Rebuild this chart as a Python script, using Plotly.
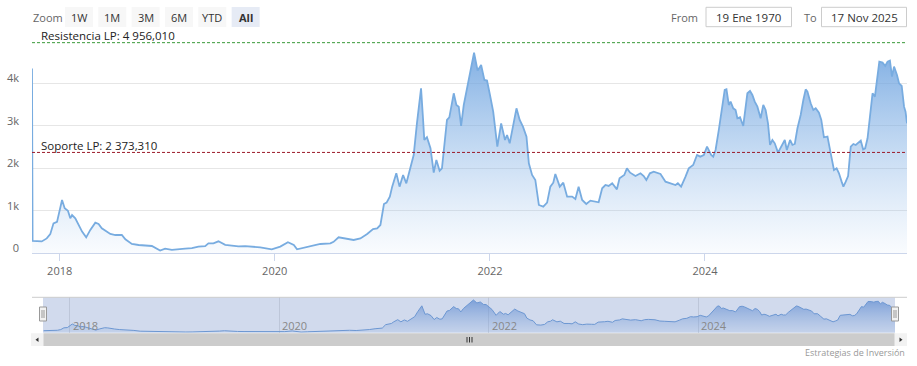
import plotly.graph_objects as go

W, H = 917, 366

dates = [
    "2017-09-29", "2017-10-01", "2017-11-01", "2017-11-18", "2017-11-30", "2017-12-11", "2017-12-23", "2017-12-29",
    "2018-01-09", "2018-01-18", "2018-01-29", "2018-02-06", "2018-02-12", "2018-02-23", "2018-03-06", "2018-03-18",
    "2018-04-01", "2018-04-15", "2018-05-02", "2018-05-13", "2018-05-24", "2018-06-05", "2018-06-22", "2018-07-09",
    "2018-07-31", "2018-08-12", "2018-09-03", "2018-09-26", "2018-10-18", "2018-11-10", "2018-12-08", "2018-12-25",
    "2019-01-17", "2019-02-09", "2019-03-03", "2019-03-26", "2019-04-17", "2019-05-10", "2019-05-21", "2019-06-07",
    "2019-06-24", "2019-07-17", "2019-08-08", "2019-08-31", "2019-09-23", "2019-10-27", "2019-11-13", "2019-12-22",
    "2020-01-20", "2020-02-15", "2020-03-06", "2020-03-17", "2020-04-09", "2020-05-01", "2020-06-04", "2020-07-08",
    "2020-07-19", "2020-08-05", "2020-09-02", "2020-09-25", "2020-10-18", "2020-11-10", "2020-11-30", "2020-12-14",
    "2020-12-25", "2021-01-06", "2021-01-15", "2021-01-26", "2021-02-03", "2021-02-17", "2021-02-28", "2021-03-12",
    "2021-03-23", "2021-04-04", "2021-04-17", "2021-04-28", "2021-05-12", "2021-05-19", "2021-05-23", "2021-06-01",
    "2021-06-13", "2021-06-24", "2021-07-03", "2021-07-14", "2021-07-22", "2021-08-08", "2021-08-16", "2021-08-31",
    "2021-09-09", "2021-09-17", "2021-09-25", "2021-10-04", "2021-10-21", "2021-11-08", "2021-11-20", "2021-12-02",
    "2021-12-13", "2021-12-22", "2022-01-01", "2022-01-12", "2022-01-26", "2022-02-08", "2022-02-21", "2022-02-28",
    "2022-03-09", "2022-03-19", "2022-04-01", "2022-04-12", "2022-04-23", "2022-05-05", "2022-05-13", "2022-05-24",
    "2022-06-04", "2022-06-16", "2022-07-01", "2022-07-14", "2022-07-25", "2022-08-04", "2022-08-11", "2022-08-26",
    "2022-09-07", "2022-09-20", "2022-10-07", "2022-10-18", "2022-10-29", "2022-11-10", "2022-11-24", "2022-12-08",
    "2022-12-25", "2023-01-05", "2023-01-17", "2023-01-28", "2023-02-08", "2023-02-20", "2023-03-08", "2023-03-17",
    "2023-04-02", "2023-04-11", "2023-04-22", "2023-05-10", "2023-05-27", "2023-06-07", "2023-06-16", "2023-06-28",
    "2023-07-11", "2023-08-03", "2023-08-20", "2023-09-06", "2023-09-23", "2023-10-01", "2023-10-12", "2023-10-27",
    "2023-11-07", "2023-11-22", "2023-12-05", "2023-12-16", "2023-12-28", "2024-01-08", "2024-01-22", "2024-01-29",
    "2024-02-06", "2024-02-17", "2024-02-28", "2024-03-08", "2024-03-14", "2024-03-22", "2024-03-28", "2024-04-06",
    "2024-04-14", "2024-04-20", "2024-04-29", "2024-05-10", "2024-05-24", "2024-06-02", "2024-06-10", "2024-06-18",
    "2024-06-27", "2024-07-08", "2024-07-17", "2024-07-25", "2024-08-02", "2024-08-09", "2024-08-17", "2024-08-25",
    "2024-09-05", "2024-09-16", "2024-09-28", "2024-10-05", "2024-10-16", "2024-10-24", "2024-11-01", "2024-11-10",
    "2024-11-21", "2024-11-30", "2024-12-08", "2024-12-14", "2024-12-25", "2025-01-03", "2025-01-11", "2025-01-22",
    "2025-01-30", "2025-02-08", "2025-02-20", "2025-03-03", "2025-03-14", "2025-03-23", "2025-03-31", "2025-04-09",
    "2025-04-15", "2025-04-23", "2025-05-01", "2025-05-10", "2025-05-19", "2025-05-27", "2025-06-04", "2025-06-13",
    "2025-06-21", "2025-06-28", "2025-07-06", "2025-07-15", "2025-07-23", "2025-07-31", "2025-08-09", "2025-08-15",
    "2025-08-26", "2025-09-04", "2025-09-12", "2025-09-20", "2025-09-27", "2025-10-04", "2025-10-14", "2025-10-21",
    "2025-10-30", "2025-11-07", "2025-11-12", "2025-11-17",
]
values = [
    4350, 290, 280, 350, 450, 705, 740, 900,
    1254, 1058, 1000, 823, 900, 823, 666, 510,
    376, 550, 720, 690, 588, 535, 454, 430,
    430, 329, 219, 195, 180, 172, 63, 110,
    80, 100, 110, 120, 157, 170, 235, 235,
    282, 200, 180, 165, 170, 150, 140, 94,
    157, 259, 196, 94, 133, 172, 219, 235,
    270, 376, 350, 313, 350, 454, 572, 588,
    666, 1160, 1192, 1333, 1568, 1882, 1568, 1843,
    1647, 1960, 2313, 3058, 3882, 3137, 2666, 2729,
    2470, 1897, 2196, 1944, 1999, 3137, 3200, 3764,
    3490, 3450, 2996, 3490, 4078, 4721, 4298, 4431,
    4078, 4063, 3725, 3333, 2509, 3058, 2666, 2784,
    2588, 2980, 3411, 3137, 2980, 2745, 2117, 1843,
    1725, 1137, 1098, 1192, 1568, 1662, 1866, 1568,
    1662, 1333, 1333, 1278, 1568, 1254, 1160, 1239,
    1215, 1200, 1529, 1607, 1584, 1647, 1505, 1764,
    1843, 1999, 1897, 1819, 1882, 1819, 1725, 1882,
    1921, 1866, 1686, 1647, 1607, 1647, 1568, 1803,
    1999, 2078, 2313, 2274, 2313, 2509, 2313, 2274,
    2431, 2902, 3450, 3843, 3858, 3490, 3568, 3411,
    3372, 3176, 3200, 2996, 3764, 3819, 3725, 3568,
    3450, 3176, 3490, 3372, 3058, 2549, 2666, 2588,
    2368, 2509, 2666, 2431, 2666, 2549, 2572, 2941,
    3254, 3607, 3858, 3803, 3529, 3372, 3411, 3309,
    3137, 2729, 2745, 2352, 1960, 1999, 1882, 1686,
    1568, 1686, 1819, 2509, 2572, 2549, 2588, 2651,
    2446, 2470, 2705, 3293, 3764, 3686, 4274, 4509,
    4486, 4407, 4509, 4533, 4156, 4392, 4196, 3999,
    3937, 3450, 3333, 3058,
]

resistance = 4956.010
support = 2373.310
resistance_label = "Resistencia LP: 4 956,010"
support_label = "Soporte LP: 2 373,310"

y_tickvals = [0, 1000, 2000, 3000, 4000]
y_ticktext = ["0", "1k", "2k", "3k", "4k"]
x_tickvals = ["2018-01-01", "2020-01-01", "2022-01-01", "2024-01-01"]
x_ticktext = ["2018", "2020", "2022", "2024"]

zoom_buttons = ["1W", "1M", "3M", "6M", "YTD", "All"]
from_text = "19 Ene 1970"
to_text = "17 Nov 2025"
credits = "Estrategias de Inversión"

FONT = "Open Sans"
LINE = "#78ace0"


def px(x):
    return x / W


def py(y):
    return 1 - y / H


fig = go.Figure()

fig.add_trace(go.Scatter(
    x=dates, y=values, mode="lines",
    line=dict(color=LINE, width=1.8),
    fill="tozeroy",
    fillgradient=dict(type="vertical",
                      colorscale=[[0, "rgba(150,190,235,0.05)"], [1, "rgba(105,160,222,0.85)"]],
                      start=0, stop=4800),
    hoverinfo="skip", showlegend=False,
))

fig.add_trace(go.Scatter(
    x=dates[1:], y=values[1:], mode="lines",
    line=dict(color="#6f9fd8", width=1),
    fill="tozeroy",
    fillgradient=dict(type="vertical",
                      colorscale=[[0, "rgba(140,180,230,0.15)"], [1, "rgba(95,145,215,0.75)"]],
                      start=0, stop=4800),
    xaxis="x2", yaxis="y2",
    hoverinfo="skip", showlegend=False,
))

xr = [dates[0], dates[-1]]

shapes = []
annotations = []

# support / resistance lines
shapes.append(dict(type="line", xref="paper", yref="y", x0=px(32), x1=px(907),
                   y0=resistance, y1=resistance, line=dict(color="#3a9a3a", width=1, dash="3px,2px")))
shapes.append(dict(type="line", xref="paper", yref="y", x0=px(32), x1=px(907),
                   y0=support, y1=support, line=dict(color="#9b1b2a", width=1, dash="3px,2px")))
annotations.append(dict(text=resistance_label, xref="paper", yref="y", x=px(39), y=resistance,
                        xanchor="left", yanchor="middle", yshift=7, showarrow=False,
                        font=dict(family=FONT, size=11.5, color="#222222")))
annotations.append(dict(text=support_label, xref="paper", yref="y", x=px(39), y=support,
                        xanchor="left", yanchor="middle", yshift=7, showarrow=False,
                        font=dict(family=FONT, size=11.5, color="#222222")))

# range selector
annotations.append(dict(text="Zoom", xref="paper", yref="paper", x=px(31), y=py(17),
                        xanchor="left", yanchor="middle", showarrow=False,
                        font=dict(family=FONT, size=11, color="#666666")))
for i, lab in enumerate(zoom_buttons):
    left = 65 + i * 33.33
    sel = lab == "All"
    shapes.append(dict(type="rect", xref="paper", yref="paper", x0=px(left), x1=px(left + 28),
                       y0=py(27), y1=py(7), fillcolor="#e6ebf5" if sel else "#f7f7f7",
                       line=dict(width=0), layer="below"))
    annotations.append(dict(text=f"<b>{lab}</b>" if sel else lab, xref="paper", yref="paper",
                            x=px(left + 14), y=py(17), xanchor="center", yanchor="middle",
                            showarrow=False, font=dict(family=FONT, size=11, color="#333333")))

# From / To inputs
annotations.append(dict(text="From", xref="paper", yref="paper", x=px(699.5), y=py(17),
                        xanchor="right", yanchor="middle", showarrow=False,
                        font=dict(family=FONT, size=11, color="#666666")))
annotations.append(dict(text="To", xref="paper", yref="paper", x=px(801.5), y=py(17),
                        xanchor="left", yanchor="middle", showarrow=False,
                        font=dict(family=FONT, size=11, color="#666666")))
for (x0, x1, t) in [(706, 791.5, from_text), (821.5, 906.5, to_text)]:
    shapes.append(dict(type="rect", xref="paper", yref="paper", x0=px(x0), x1=px(x1),
                       y0=py(26.7), y1=py(7.3), fillcolor="white",
                       line=dict(color="#cccccc", width=1)))
    annotations.append(dict(text=t, xref="paper", yref="paper", x=px((x0 + x1) / 2), y=py(17),
                            xanchor="center", yanchor="middle", showarrow=False,
                            font=dict(family=FONT, size=11.5, color="#333333")))

# navigator
shapes.append(dict(type="rect", xref="paper", yref="paper", x0=px(43), x1=px(895),
                   y0=py(332.7), y1=py(297.3), fillcolor="rgba(102,133,194,0.3)",
                   line=dict(width=0), layer="above"))
shapes.append(dict(type="line", xref="paper", yref="paper", x0=px(32), x1=px(907),
                   y0=py(297.3), y1=py(297.3), line=dict(color="#cccccc", width=1), layer="above"))
for xv, tt in zip(x_tickvals, x_ticktext):
    annotations.append(dict(text=tt, xref="x2", yref="paper", x=xv, y=py(325.5),
                            xanchor="left", yanchor="middle", xshift=1, showarrow=False,
                            font=dict(family=FONT, size=11, color="#888888")))
for hx in [43, 895]:
    shapes.append(dict(type="rect", xref="paper", yref="paper", x0=px(hx - 3.5), x1=px(hx + 3.5),
                       y0=py(321), y1=py(307), fillcolor="#f2f2f2",
                       line=dict(color="#999999", width=1), layer="above"))
    for lx in [hx - 1, hx + 1]:
        shapes.append(dict(type="line", xref="paper", yref="paper", x0=px(lx), x1=px(lx),
                           y0=py(318), y1=py(310), line=dict(color="#999999", width=1), layer="above"))

# scrollbar
shapes.append(dict(type="rect", xref="paper", yref="paper", x0=px(31), x1=px(907),
                   y0=py(346), y1=py(333.3), fillcolor="#f2f2f2", line=dict(width=0)))
shapes.append(dict(type="rect", xref="paper", yref="paper", x0=px(43.5), x1=px(894.5),
                   y0=py(346), y1=py(333.3), fillcolor="#cccccc", line=dict(width=0)))
for gx in [467, 469.5, 472]:
    shapes.append(dict(type="line", xref="paper", yref="paper", x0=px(gx), x1=px(gx),
                       y0=py(342.5), y1=py(337), line=dict(color="#333333", width=1)))
shapes.append(dict(type="path", xref="paper", yref="paper",
                   path=f"M {px(35.5)},{py(339.7)} L {px(38.5)},{py(337.5)} L {px(38.5)},{py(341.9)} Z",
                   fillcolor="#333333", line=dict(width=0)))
shapes.append(dict(type="path", xref="paper", yref="paper",
                   path=f"M {px(902.5)},{py(339.7)} L {px(899.5)},{py(337.5)} L {px(899.5)},{py(341.9)} Z",
                   fillcolor="#333333", line=dict(width=0)))

# credits
annotations.append(dict(text=credits, xref="paper", yref="paper", x=px(907), y=py(352),
                        xanchor="right", yanchor="middle", showarrow=False,
                        font=dict(family=FONT, size=9, color="#999999")))

fig.update_layout(
    width=W, height=H,
    margin=dict(l=0, r=0, t=0, b=0),
    paper_bgcolor="white", plot_bgcolor="white",
    showlegend=False,
    xaxis=dict(domain=[px(32), px(907)], anchor="y", type="date", range=xr,
               tickvals=x_tickvals, ticktext=x_ticktext, showgrid=False,
               showline=True, linecolor="#ccd6eb", linewidth=1,
               ticks="outside", ticklen=7, tickcolor="#ccd6eb",
               tickfont=dict(family=FONT, size=11, color="#666666"),
               fixedrange=True, automargin=False),
    yaxis=dict(domain=[py(253.3), py(41)], anchor="x", range=[0, 4995],
               tickvals=y_tickvals, ticktext=y_ticktext, showgrid=True,
               gridcolor="#e6e6e6", gridwidth=1, zeroline=False, showline=False,
               ticks="", ticklabelstandoff=12, ticklabelshift=-5,
               tickfont=dict(family=FONT, size=11, color="#666666"),
               fixedrange=True, automargin=False),
    xaxis2=dict(domain=[px(43), px(895)], anchor="y2", type="date", range=xr,
                tickvals=x_tickvals, showticklabels=False, showgrid=True,
                gridcolor="#e3e3e3", zeroline=False, showline=False, ticks="",
                fixedrange=True, automargin=False),
    yaxis2=dict(domain=[py(332.7), py(297.3)], anchor="x2", range=[0, 5110],
                showgrid=False, showticklabels=False, zeroline=False, showline=False,
                fixedrange=True, automargin=False),
    shapes=shapes,
    annotations=annotations,
)

fig.write_html("out.html", config={"displayModeBar": False},
               post_script="document.body.style.margin='0';document.body.style.padding='0';")
